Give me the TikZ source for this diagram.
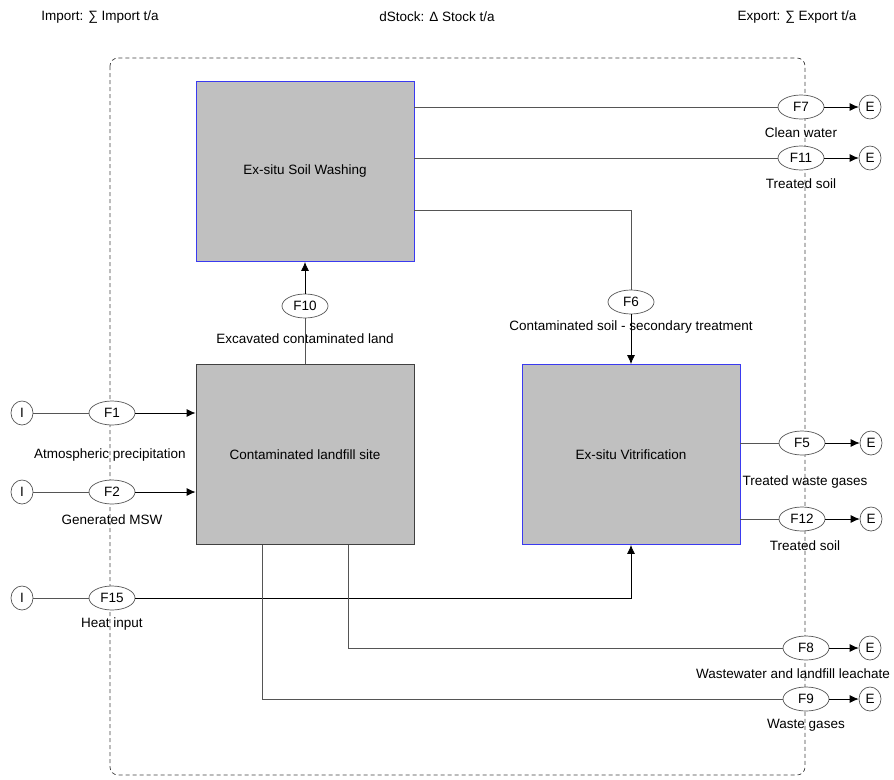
\documentclass[tikz,border=0pt]{standalone}
\usepackage{fontspec}
\setmainfont{Liberation Sans}
\usetikzlibrary{arrows.meta,shapes.geometric}
\definecolor{boxgray}{HTML}{C0C0C0}
\definecolor{linegray}{HTML}{555555}
\definecolor{boxblue}{HTML}{3A3AF0}
\begin{document}
\begin{tikzpicture}[x=1pt,y=-1pt,
  font=\fontsize{13.5}{16}\selectfont,
  process/.style={draw=boxblue, fill=boxgray, line width=0.8pt, minimum width=218pt, minimum height=180pt, inner sep=0pt},
  flowid/.style={ellipse, draw=linegray, fill=white, line width=0.7pt, minimum width=46pt, minimum height=24pt, inner sep=0pt},
  terminal/.style={ellipse, draw=linegray, fill=white, line width=0.7pt, minimum width=22pt, minimum height=24pt, inner sep=0pt},
  flow/.style={draw=linegray, line width=0.8pt},
  tip/.style={-{Latex[length=9pt,width=8pt]}, black}]
\useasboundingbox (0,0) rectangle (894,779);
% Header
\node (himp) at (100,17) {Import: ∑ Import t/a};
\node (hstk) at (437,17) {dStock: Δ Stock t/a};
\node (hexp) at (797,17) {Export: ∑ Export t/a};
% System boundary
\draw[black!75, dash pattern=on 4pt off 3pt, line width=0.7pt, rounded corners=8pt] (110,58) rectangle (805,775);

% Processes
\node[process] (SW) at (305,171.5) {Ex-situ Soil Washing};
\node[process, draw=black!75] (LF) at (305,454.5) {Contaminated landfill site};
\node[process] (VT) at (631,454.5) {Ex-situ Vitrification};

% Imports
\node[terminal] (I1) at (22,413) {I};
\node[flowid] (F1) at (112,413) {F1};
\node (L1) at (110,455) {Atmospheric precipitation};
\draw[flow] (I1) -- (F1);
\draw[flow, tip] (F1) -- (LF.west |- F1);

\node[terminal] (I2) at (22,492) {I};
\node[flowid] (F2) at (112,492) {F2};
\node (L2) at (112,520) {Generated MSW};
\draw[flow] (I2) -- (F2);
\draw[flow, tip] (F2) -- (LF.west |- F2);

\node[terminal] (I15) at (22,598) {I};
\node[flowid] (F15) at (112,598) {F15};
\node (L15) at (112,624) {Heat input};
\draw[flow] (I15) -- (F15);
\draw[flow, tip] (F15) -| (VT.south);

% Internal flows
\node[flowid] (F10) at (305,306) {F10};
\node (L10) at (305,339) {Excavated contaminated land};
\draw[flow] (LF.north) -- (F10);
\draw[flow, tip] (F10) -- (SW.south);

\coordinate (k6) at (631,210);
\node[flowid] (F6) at (631,302) {F6};
\node (L6) at (631,327) {Contaminated soil - secondary treatment};
\draw[flow] (SW.east |- k6) -- (k6) -- (F6);
\draw[flow, tip] (F6) -- (VT.north);

% Exports
\node[flowid] (F7) at (801,107) {F7};
\node[terminal] (E7) at (870,107) {E};
\node (L7) at (801,133) {Clean water};
\draw[flow] (SW.east |- F7) -- (F7);
\draw[flow, tip] (F7) -- (E7);

\node[flowid] (F11) at (801,158) {F11};
\node[terminal] (E11) at (870,158) {E};
\node (L11) at (801,184) {Treated soil};
\draw[flow] (SW.east |- F11) -- (F11);
\draw[flow, tip] (F11) -- (E11);

\node[flowid] (F5) at (802,443) {F5};
\node[terminal] (E5) at (871,443) {E};
\node (L5) at (805,482) {Treated waste gases};
\draw[flow] (VT.east |- F5) -- (F5);
\draw[flow, tip] (F5) -- (E5);

\node[flowid] (F12) at (802,519) {F12};
\node[terminal] (E12) at (871,519) {E};
\node (L12) at (805,546) {Treated soil};
\draw[flow] (VT.east |- F12) -- (F12);
\draw[flow, tip] (F12) -- (E12);

\node[flowid] (F8) at (806,648) {F8};
\node[terminal] (E8) at (870,648) {E};
\node (L8) at (793,674) {Wastewater and landfill leachate};
\draw[flow] ([xshift=43pt]LF.south) |- (F8);
\draw[flow, tip] (F8) -- (E8);

\node[flowid] (F9) at (806,699) {F9};
\node[terminal] (E9) at (870,699) {E};
\node (L9) at (806,725) {Waste gases};
\draw[flow] ([xshift=-43pt]LF.south) |- (F9);
\draw[flow, tip] (F9) -- (E9);
\end{tikzpicture}
\end{document}
